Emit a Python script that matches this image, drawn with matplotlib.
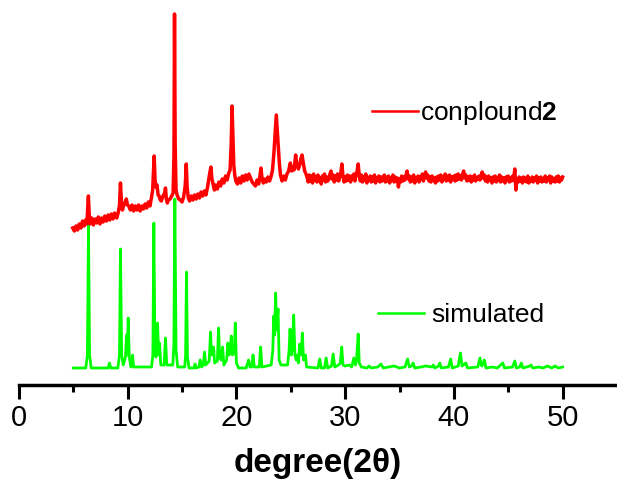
import matplotlib
matplotlib.use("Agg")
import matplotlib.pyplot as plt
from matplotlib.lines import Line2D

plt.rcParams['font.family'] = ['Liberation Sans', 'DejaVu Sans']
plt.rcParams['mathtext.fontset'] = 'custom'
plt.rcParams['mathtext.rm'] = 'Liberation Sans'
plt.rcParams['mathtext.bf'] = 'Liberation Sans:bold'

# ---- data (intensity in arbitrary units) ----
# experimental pattern, 5-26.5 degrees, read point by point
red_pts = [
 (4.95,157),(5.1,154),(5.25,159),(5.4,155),(5.55,161),(5.7,157),(5.85,164),(6.0,159),(6.15,165),(6.25,161),
 (6.32,175),(6.39,189),(6.46,172),(6.55,161),(6.7,167),(6.85,160),(7.0,166),(7.15,162),(7.3,168),(7.45,161),
 (7.6,167),(7.75,163),(7.9,169),(8.05,164),(8.2,170),(8.35,165),(8.5,171),(8.65,166),(8.8,172),(9.0,167),
 (9.15,173),(9.25,180),(9.34,202),(9.42,185),(9.52,175),(9.62,179),(9.75,182),(9.88,186),(9.98,180),(10.1,179),
 (10.25,175),(10.4,180),(10.55,174),(10.7,179),(10.85,175),(11.0,180),(11.15,174),(11.3,179),(11.45,176),(11.6,181),
 (11.75,177),(11.9,183),(12.05,179),(12.2,188),(12.3,195),(12.38,215),(12.44,229),(12.52,205),(12.6,198),(12.7,200),
 (12.8,190),(12.9,189),(13.0,185),(13.1,184),(13.25,189),(13.4,192),(13.48,197),(13.56,186),(13.65,182),(13.75,185),
 (13.9,186),(14.05,189),(14.18,192),(14.26,230),(14.31,371),(14.37,240),(14.45,195),(14.55,190),(14.7,186),(14.85,185),
 (15.0,183),(15.15,188),(15.3,200),(15.39,221),(15.47,198),(15.58,187),(15.7,184),(15.85,189),(16.0,185),(16.15,190),
 (16.3,186),(16.45,191),(16.6,187),(16.75,193),(16.9,189),(17.05,194),(17.2,190),(17.35,198),(17.45,205),(17.55,212),
 (17.66,218),(17.75,206),(17.85,201),(17.98,195),(18.1,200),(18.25,196),(18.4,203),(18.55,199),(18.7,206),(18.85,202),
 (19.0,209),(19.15,205),(19.3,212),(19.42,215),(19.52,240),(19.6,279),(19.68,250),(19.76,220),(19.85,210),(19.95,204),
 (20.1,201),(20.25,207),(20.4,202),(20.55,209),(20.7,204),(20.85,210),(21.0,205),(21.15,211),(21.3,207),(21.45,203),
 (21.6,201),(21.75,199),(21.9,205),(22.05,201),(22.15,208),(22.26,217),(22.36,206),(22.48,202),(22.6,206),(22.75,203),
 (22.9,208),(23.05,204),(23.2,209),(23.32,215),(23.45,232),(23.58,255),(23.67,270),(23.76,255),(23.85,240),(23.95,222),
 (24.05,210),(24.2,204),(24.35,209),(24.5,205),(24.65,211),(24.8,214),(24.96,222),(25.08,214),(25.2,218),(25.3,215),
 (25.45,230),(25.55,220),(25.7,216),(25.82,220),(25.92,226),(26.04,230),(26.15,222),(26.28,214),(26.4,211),
]

# experimental pattern, 26.5-50 degrees, read every 0.1 degree
red_tail_start = 26.5
red_tail_step = 0.1
red_tail_y = [
 208,203,210,204,209,202,211,205,208,203,
 210,204,207,201,209,205,211,203,208,204,
 206,211,214,206,210,203,209,205,211,204,
 208,212,221,209,203,208,204,210,205,209,
 203,209,206,211,204,210,214,221,209,204,
 210,203,208,205,211,202,207,205,209,203,
 208,204,210,202,207,205,209,203,208,204,
 206,210,203,208,204,209,202,207,205,210,
 203,208,204,207,198,206,203,209,204,208,
 205,210,214,206,209,203,208,204,210,202,
 207,205,209,203,208,206,211,204,209,213,
 207,210,204,208,203,209,205,207,202,208,
 204,209,205,210,203,208,206,211,204,209,
 205,210,203,208,206,209,204,210,205,211,
 206,209,205,211,214,207,210,204,208,205,
 209,203,208,205,210,204,207,206,209,205,
 208,213,207,210,204,208,203,209,205,207,
 202,208,204,209,203,207,205,210,203,208,
 204,207,202,208,205,209,203,207,204,209,
 205,216,195,206,203,208,204,207,202,208,
 204,207,203,209,202,206,204,208,203,207,
 205,209,202,207,204,208,203,206,204,209,
 203,207,205,209,202,208,204,206,203,208,
 204,209,203,207,205,208,
]

# simulated pattern
green_pts = [
 (5.0,17),(6.15,17),(6.3,30),(6.4,160),(6.5,30),(6.65,17),(8.2,17),(8.33,22),(8.45,17),(9.1,17),
 (9.25,30),(9.34,136),(9.45,30),(9.6,20),(9.8,28),(9.9,50),(9.97,30),(10.05,67),(10.15,28),(10.3,18),
 (10.45,30),(10.55,18),(12.2,18),(12.32,30),(12.41,162),(12.5,45),(12.6,28),(12.75,62),(12.85,30),(12.93,42),
 (13.05,20),(13.35,20),(13.48,47),(13.6,20),(14.15,20),(14.25,40),(14.34,186),(14.45,35),(14.6,18),(15.25,18),
 (15.33,30),(15.41,113),(15.5,28),(15.65,17),(16.1,17),(16.2,21),(16.3,17),(16.55,18),(16.67,25),(16.8,18),
 (16.95,20),(17.07,33),(17.18,20),(17.5,24),(17.62,53),(17.72,30),(17.9,38),(18.0,22),(18.25,24),(18.36,57),
 (18.46,28),(18.6,25),(18.73,38),(18.85,20),(19.1,25),(19.22,42),(19.32,30),(19.43,35),(19.53,49),(19.63,30),
 (19.8,32),(19.9,62),(20.0,22),(20.2,17),(20.9,17),(21.12,25),(21.25,18),(21.4,18),(21.53,30),(21.65,18),
 (22.1,18),(22.23,38),(22.35,18),(23.2,20),(23.35,35),(23.43,69),(23.52,50),(23.61,92),(23.7,55),(23.83,76),
 (23.93,25),(24.1,20),(24.7,20),(24.85,35),(24.93,56),(25.05,30),(25.15,38),(25.27,70),(25.38,30),(25.5,25),
 (25.6,30),(25.7,22),(25.82,41),(25.95,30),(26.07,52),(26.17,25),(26.35,30),(26.45,18),(27.5,17),(27.66,26),
 (27.8,17),(28.1,17),(28.25,27),(28.4,17),(28.75,19),(28.9,31),(29.05,18),(29.4,20),(29.55,22),(29.69,38),
 (29.8,20),(30.0,19),(30.4,20),(30.6,18),(30.8,27),(30.95,20),(31.05,25),(31.2,51),(31.3,22),(31.5,18),
 (32.0,17),(32.2,19),(32.4,17),(33.0,18),(33.3,21),(33.5,17),(34.0,18),(34.5,19),(35.0,17),(35.5,18),
 (35.74,26),(35.9,18),(36.1,19),(36.26,22),(36.4,17),(37.0,18),(37.4,19),(38.0,18),(38.1,20),(38.25,17),
 (38.6,19),(38.7,22),(38.85,17),(39.5,18),(39.7,26),(39.85,17),(40.4,19),(40.6,32),(40.75,19),(41.1,22),
 (41.25,17),(42.2,18),(42.4,27),(42.55,19),(42.65,20),(42.8,25),(42.95,17),(43.5,18),(44.0,17),(44.5,22),
 (44.65,17),(45.4,18),(45.6,24),(45.75,17),(46.05,18),(46.2,22),(46.35,17),(47.0,19),(47.1,20),(47.25,17),
 (47.8,18),(48.2,17),(48.6,19),(49.0,17),(49.3,19),(49.6,17),(50.0,18),
]

red_label = r"conplound$\mathbf{2}$"
green_label = "simulated"
x_ticks = [0, 10, 20, 30, 40, 50]
x_minor = [5, 15, 25, 35, 45]
x_label = "degree(2θ)"

red_x = [p[0] for p in red_pts] + [red_tail_start + red_tail_step * i for i in range(len(red_tail_y))]
red_y = [p[1] for p in red_pts] + list(red_tail_y)
green_x = [p[0] for p in green_pts]
green_y = [p[1] for p in green_pts]

fig = plt.figure(figsize=(6.17, 4.84), dpi=100)
ax = fig.add_axes([18.9/617, 99/484, (617-18.9)/617, 385/484])

red_col = '#ff0000'
green_col = '#00ff00'
ax.plot(green_x, green_y, color=green_col, lw=2.0, solid_joinstyle='round')
ax.plot(red_x, red_y, color=red_col, lw=2.5, solid_joinstyle='round')

ax.set_xlim(0, 55)
ax.set_ylim(0, 385)
for s in ['top', 'right', 'left']:
    ax.spines[s].set_visible(False)
ax.spines['bottom'].set_linewidth(2.5)
ax.set_yticks([])
ax.set_xticks(x_ticks)
ax.set_xticks(x_minor, minor=True)
ax.tick_params(axis='x', which='major', length=10, width=2.2, labelsize=21, pad=4)
ax.tick_params(axis='x', which='minor', length=5, width=2.2)
ax.set_xlabel(x_label, fontsize=24, fontweight='bold', labelpad=11)

h1 = [Line2D([], [], color=red_col, lw=1.8)]
leg1 = ax.legend(h1, [red_label], loc='center left', bbox_to_anchor=(0.59, 0.706),
                 frameon=False, fontsize=19, handlelength=1.75, handletextpad=0.08,
                 borderpad=0, borderaxespad=0)
ax.add_artist(leg1)
h2 = [Line2D([], [], color=green_col, lw=1.8)]
ax.legend(h2, [green_label], loc='center left', bbox_to_anchor=(0.60, 0.182),
          frameon=False, fontsize=19, handlelength=1.75, handletextpad=0.27,
          borderpad=0, borderaxespad=0)

fig.savefig("out.png", dpi=100)
